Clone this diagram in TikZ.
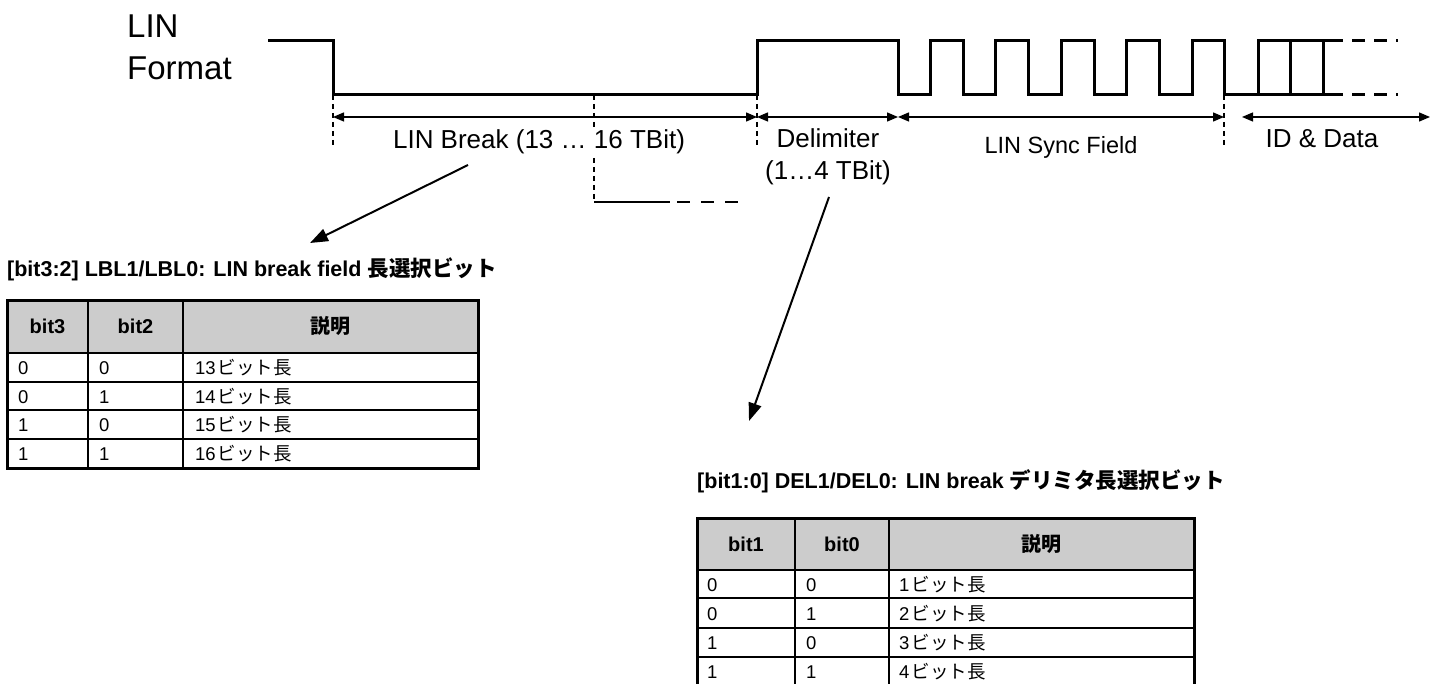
\documentclass[tikz,border=0pt]{standalone}
\usepackage{fontspec}
\setmainfont{Liberation Sans}
\newfontfamily\jp{Noto Sans CJK JP}
\usetikzlibrary{arrows.meta}
\begin{document}
\begin{tikzpicture}[x=1pt,y=-1pt,
  sig/.style={line width=3pt, line join=miter},
  guide/.style={line width=1.1pt, dash pattern=on 5pt off 4pt},
  extl/.style={line width=2.5pt, dash pattern=on 13pt off 11pt, dash phase=17pt},
  extr/.style={line width=3pt, dash pattern=on 13pt off 9pt, dash phase=13pt},
  dim/.style={line width=1.3pt, {Triangle[length=11pt,width=9pt]}-{Triangle[length=11pt,width=9pt]}},
  pointer/.style={line width=2pt, -{Triangle[length=18pt,width=13pt]}},
  lbl/.style={inner sep=0pt, anchor=base, font=\fontsize{26}{32}\selectfont},
  ttl/.style={inner sep=0pt, anchor=base west, font=\bfseries\fontsize{21.5}{26}\selectfont},
  hdrtxt/.style={inner sep=0pt, anchor=base, font=\bfseries\fontsize{20}{24}\selectfont},
  celltxt/.style={inner sep=0pt, anchor=base west, font=\fontsize{18.5}{22}\selectfont},
  hdrfill/.style={fill=gray!40},
  tinner/.style={line width=2pt},
  touter/.style={line width=3pt},
]
\useasboundingbox (0,0) rectangle (1437,684);

% ---------- signal ----------
\draw[sig] (268,41) -- (333,41) -- (333,95) -- (757,95) -- (757,41) -- (898,41)
  -- (898,95) -- (930,95) -- (930,41) -- (963,41) -- (963,95) -- (995,95)
  -- (995,41) -- (1028,41) -- (1028,95) -- (1061,95) -- (1061,41) -- (1094,41)
  -- (1094,95) -- (1126,95) -- (1126,41) -- (1159,41) -- (1159,95) -- (1192,95)
  -- (1192,41) -- (1224,41) -- (1224,95) -- (1343,95);
\draw[sig] (1258,95) -- (1258,41) -- (1343,41);
\draw[sig] (1290,41) -- (1290,95);
\draw[sig] (1323,41) -- (1323,95);
\draw[extr] (1343,41) -- (1398,41);
\draw[extr] (1343,95) -- (1398,95);

% ---------- guides ----------
\coordinate (g0t) at (333,95);  \coordinate (g0b) at (333,147);
\coordinate (g1t) at (594,95);  \coordinate (g1b) at (594,202);
\coordinate (g2t) at (757,95);  \coordinate (g2b) at (757,147);
\coordinate (g3t) at (1224,95); \coordinate (g3b) at (1224,147);
\draw[guide] (g0t) -- (g0b);
\draw[guide] (g1t) -- (g1b);
\draw[guide] (g2t) -- (g2b);
\draw[guide] (g3t) -- (g3b);
\coordinate (lo1) at (670,202); \coordinate (lo2) at (746,202);
\draw[line width=2.5pt] (g1b) -- (lo1);
\draw[extl] (lo1) -- (lo2);

% ---------- dimension arrows ----------
\coordinate (d0) at (333,117);
\coordinate (d1) at (757,117);
\coordinate (d2) at (898,117);
\coordinate (d3) at (1224,117);
\coordinate (d4) at (1242,117);
\coordinate (d5) at (1430,117);
\draw[dim] (d0) -- (d1);
\draw[dim] (d1) -- (d2);
\draw[dim] (d2) -- (d3);
\draw[dim] (d4) -- (d5);

% ---------- labels ----------
\node[inner sep=0pt, anchor=base west, font=\fontsize{33}{42}\selectfont] (fmt1) at (127,38) {LIN};
\node[inner sep=0pt, anchor=base west, font=\fontsize{33}{42}\selectfont] (fmt2) at (127,80) {Format};
\node[lbl, fill=white, inner sep=2pt] (brk) at (539,149) {LIN Break (13 … 16 TBit)};
\node[lbl] (del1) at (828,148) {Delimiter};
\node[lbl] (del2) at (828,180) {(1…4 TBit)};
\node[lbl, font=\fontsize{23.5}{28}\selectfont] (sync) at (1061,154) {LIN Sync Field};
\node[lbl] (idd) at (1322,148) {ID \& Data};

% ---------- pointers ----------
\coordinate (p1s) at (468,165); \coordinate (p1e) at (310,243);
\coordinate (p2s) at (829,197); \coordinate (p2e) at (749,421);
\draw[pointer] (p1s) -- (p1e);
\draw[pointer] (p2s) -- (p2e);

% ---------- table 1 ----------
\node[ttl] (t1) at (7,277) {[bit3:2] LBL1/LBL0: LIN break field {\jp 長選択ビット}};
\fill[hdrfill] (7,301) rectangle (478,353);
\foreach \yy in {353,382,410,439} \draw[tinner] (7,\yy) -- (478,\yy);
\foreach \xx in {88,183} \draw[tinner] (\xx,301) -- (\xx,468);
\draw[touter] (7,301) rectangle (478,468);
\node[hdrtxt] (h11) at (47.5,334) {bit3};
\node[hdrtxt] (h12) at (135.5,334) {bit2};
\node[hdrtxt] (h13) at (330.5,334) {\jp 説明};
\foreach \yy/\a/\b/\c in {374/0/0/13,403/0/1/14,431/1/0/15,460/1/1/16} {
  \node[celltxt] at (18,\yy) {\a};
  \node[celltxt] at (99,\yy) {\b};
  \node[celltxt] at (195,\yy) {\c\hspace{2pt}{\jp ビット長}};
}

% ---------- table 2 ----------
\node[ttl] (t2) at (697,488) {[bit1:0] DEL1/DEL0: LIN break {\jp デリミタ長選択ビット}};
\fill[hdrfill] (697,518) rectangle (1194,570);
\foreach \yy in {570,598,628,657} \draw[tinner] (697,\yy) -- (1194,\yy);
\foreach \xx in {795,889} \draw[tinner] (\xx,518) -- (\xx,686);
\draw[touter] (697,518) rectangle (1194,686);
\node[hdrtxt] (h21) at (746,551) {bit1};
\node[hdrtxt] (h22) at (842,551) {bit0};
\node[hdrtxt] (h23) at (1041.5,551) {\jp 説明};
\foreach \yy/\a/\b/\c in {591/0/0/1,620/0/1/2,649/1/0/3,678/1/1/4} {
  \node[celltxt] at (707,\yy) {\a};
  \node[celltxt] at (806,\yy) {\b};
  \node[celltxt] at (899,\yy) {\c\hspace{2pt}{\jp ビット長}};
}
\end{tikzpicture}
\end{document}
